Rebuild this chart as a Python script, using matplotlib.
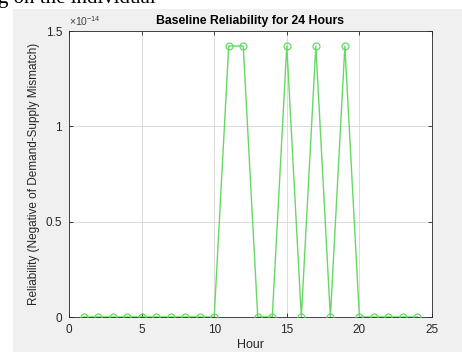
import matplotlib.pyplot as plt
from matplotlib.patches import Rectangle

plt.rcParams['font.family'] = ['Liberation Sans', 'DejaVu Sans']
plt.rcParams['mathtext.default'] = 'regular'

hours = list(range(1, 25))
reliability = [0, 0, 0, 0, 0, 0, 0, 0, 0, 0,
               1.4211e-14, 1.4211e-14, 0, 0, 1.4211e-14, 0, 1.4211e-14, 0, 1.4211e-14,
               0, 0, 0, 0, 0]
x_ticks = [0, 5, 10, 15, 20, 25]
y_ticks = [0, 0.5e-14, 1e-14, 1.5e-14]
y_tick_labels = ['0', '0.5', '1', '1.5']

W, H = 462, 352
fig = plt.figure(figsize=(W / 100, H / 100), dpi=100, facecolor='white')

# grey matlab figure panel, cut off from the surrounding document
fig.patches.append(Rectangle((13 / W, 0), 1 - 13 / W, 1 - 9 / H, transform=fig.transFigure,
                             facecolor='#f0f0f0', edgecolor='none', zorder=-5))
fig.text(-2 / W, 1 - 3 / H, 'g on the individual', family='Liberation Serif', fontsize=15,
         va='baseline', ha='left', color='black')

ax = fig.add_axes([69 / W, 1 - 317 / H, (432 - 69) / W, (317 - 31) / H])
ax.set_zorder(1)
ax.set_facecolor('white')

ax.plot(hours, reliability, color='#66d866', lw=1.0, marker='o', markersize=5,
        markerfacecolor='none', markeredgecolor='#66d866', markeredgewidth=0.9, zorder=3)

ax.set_xlim(0, 25)
ax.set_ylim(0, 1.5e-14)
ax.set_xticks(x_ticks)
ax.set_yticks(y_ticks)
ax.set_yticklabels(y_tick_labels)
ax.grid(True, color='#dcdcdc', lw=0.7)
ax.set_axisbelow(True)
ax.tick_params(direction='in', length=3, width=0.6, colors='#262626', labelsize=8.5,
               top=True, right=True, pad=5)
for s in ax.spines.values():
    s.set_color('#262626')
    s.set_linewidth(0.6)

ax.text(0.0, 1.012, r'$\times10^{-14}$', transform=ax.transAxes, fontsize=7.5,
        color='#404040', ha='left', va='bottom')
ax.set_title('Baseline Reliability for 24 Hours', fontsize=8.8, fontweight='bold',
             color='black', pad=5)
ax.set_xlabel('Hour', fontsize=9, color='#262626', labelpad=2)
ax.set_ylabel('Reliability (Negative of Demand-Supply Mismatch)', fontsize=8.5,
              color='#262626', labelpad=4)

fig.savefig('out.png', dpi=100, facecolor=fig.get_facecolor())
